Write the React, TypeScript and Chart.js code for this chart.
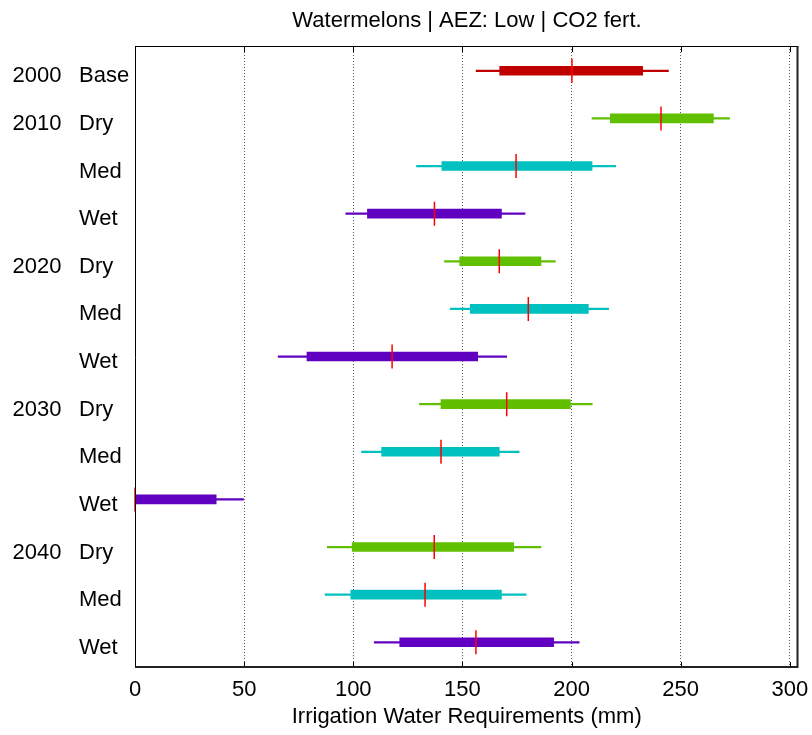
import React, { useEffect, useRef } from 'react';
import { Chart, registerables } from 'chart.js';

Chart.register(...registerables);

// Row labels (top to bottom)
const yearLabels = ['2000', '2010', '', '', '2020', '', '', '2030', '', '', '2040', '', ''];
const scenarioLabels = ['Base', 'Dry', 'Med', 'Wet', 'Dry', 'Med', 'Wet', 'Dry', 'Med', 'Wet', 'Dry', 'Med', 'Wet'];

// Irrigation water requirement statistics per row (mm)
const whiskerLow = [156.3, 209.4, 129.0, 96.6, 141.8, 144.4, 65.6, 130.3, 103.8, 0, 88.1, 87.1, 109.6];
const quartileLow = [167.1, 217.8, 140.6, 106.5, 148.8, 153.6, 78.8, 140.2, 113.0, 0, 99.5, 98.9, 121.3];
const medians = [200.2, 241.0, 174.6, 137.2, 166.9, 180.2, 117.8, 170.3, 140.2, 0, 137.1, 132.9, 156.2];
const quartileHigh = [232.6, 265.0, 209.4, 167.9, 186.0, 207.7, 157.0, 199.5, 166.9, 37.2, 173.5, 167.9, 191.8];
const whiskerHigh = [244.4, 272.4, 220.2, 178.7, 192.6, 217.0, 170.3, 209.5, 176.0, 49.7, 186.0, 179.2, 203.5];

const xTicks = [0, 50, 100, 150, 200, 250, 300];

const scenarioColors: Record<string, string> = {
  Base: '#C00000',
  Dry: '#60C000',
  Med: '#00C0C0',
  Wet: '#6000C0',
};

const FONT = '"Liberation Sans", Arial, Helvetica, sans-serif';

// Axis box, inward tick marks and the two-column row labels
const frameAndLabels = {
  id: 'frameAndLabels',
  afterDraw(chart: any) {
    const { ctx, chartArea: a, scales } = chart;
    const xs = scales.x;
    const ys = scales.y;
    ctx.save();

    ctx.strokeStyle = '#000';
    ctx.lineWidth = 1;
    for (const v of xTicks) {
      const px = Math.round(xs.getPixelForValue(v)) + 0.5;
      ctx.beginPath();
      ctx.moveTo(px, a.top);
      ctx.lineTo(px, a.top + 6);
      ctx.moveTo(px, a.bottom);
      ctx.lineTo(px, a.bottom - 6);
      ctx.stroke();
    }

    ctx.beginPath();
    ctx.lineWidth = 1;
    ctx.moveTo(a.left + 0.5, a.bottom);
    ctx.lineTo(a.left + 0.5, a.top + 0.5);
    ctx.lineTo(a.right, a.top + 0.5);
    ctx.stroke();
    ctx.beginPath();
    ctx.strokeStyle = '#222';
    ctx.lineWidth = 2;
    ctx.moveTo(a.right - 1, a.top);
    ctx.lineTo(a.right - 1, a.bottom - 1);
    ctx.lineTo(a.left, a.bottom - 1);
    ctx.stroke();

    ctx.fillStyle = '#000';
    ctx.font = `22px ${FONT}`;
    ctx.textAlign = 'left';
    ctx.textBaseline = 'alphabetic';
    scenarioLabels.forEach((s, i) => {
      const py = ys.getPixelForValue(i) + 11.5;
      if (yearLabels[i]) ctx.fillText(yearLabels[i], 12.5, py);
      ctx.fillText(s, 79, py);
    });
    ctx.restore();
  },
};

export default function App() {
  const canvasRef = useRef<HTMLCanvasElement | null>(null);

  useEffect(() => {
    const canvas = canvasRef.current;
    if (!canvas) return;
    const rows = scenarioLabels.map((_, i) => i);
    const rowColors = scenarioLabels.map((s) => scenarioColors[s]);

    const chart = new Chart(canvas, {
      type: 'bar',
      data: {
        datasets: [
          {
            type: 'bar',
            label: 'Range',
            order: 3,
            data: rows.map((i) => ({ x: [whiskerLow[i], whiskerHigh[i]], y: i })) as any,
            backgroundColor: rowColors,
            borderWidth: 0,
            barThickness: 1.6,
            grouped: false,
          } as any,
          {
            type: 'bar',
            label: 'Interquartile range',
            order: 2,
            data: rows.map((i) => ({ x: [quartileLow[i], quartileHigh[i]], y: i })) as any,
            backgroundColor: rowColors,
            borderWidth: 0,
            barThickness: 9,
            grouped: false,
          } as any,
          {
            type: 'scatter',
            label: 'Median',
            order: 1,
            data: rows.map((i) => ({ x: medians[i], y: i })),
            pointStyle: 'line',
            rotation: 90,
            pointRadius: 12,
            pointHoverRadius: 12,
            borderColor: '#FF0000',
            backgroundColor: '#FF0000',
            borderWidth: 1.5,
            clip: 2,
          } as any,
        ],
      },
      options: {
        responsive: false,
        animation: false,
        devicePixelRatio: 1,
        indexAxis: 'y',
        layout: { padding: { left: 135, right: 13, top: 0, bottom: 0 } },
        plugins: {
          legend: { display: false },
          tooltip: { enabled: false },
          title: {
            display: true,
            text: 'Watermelons | AEZ: Low | CO2 fert.',
            color: '#000',
            font: { family: FONT, size: 22, weight: 'normal' },
            padding: { top: 8, bottom: 11.6 },
          },
        },
        scales: {
          x: {
            type: 'linear',
            position: 'bottom',
            min: 0,
            max: 304,
            afterBuildTicks(scale: any) {
              scale.ticks = xTicks.map((v) => ({ value: v }));
            },
            afterFit(scale: any) {
              scale.height = 67;
              scale.paddingLeft = 0;
              scale.paddingRight = 0;
            },
            ticks: {
              color: '#000',
              font: { family: FONT, size: 22 },
              padding: 8.5,
              maxRotation: 0,
              autoSkip: false,
            },
            grid: { color: '#555', lineWidth: 1, drawTicks: false },
            border: { display: false, dash: [1, 2] },
            title: {
              display: true,
              text: 'Irrigation Water Requirements (mm)',
              color: '#000',
              font: { family: FONT, size: 22 },
              padding: { top: 0, bottom: 4.4 },
            },
          },
          y: {
            type: 'linear',
            min: -0.52,
            max: 12.54,
            reverse: true,
            offset: false,
            grid: { offset: false },
            display: false,
          },
        },
      } as any,
      plugins: [frameAndLabels],
    });

    return () => chart.destroy();
  }, []);

  return (
    <div style={{ position: 'absolute', left: 0, top: 0, width: 812, height: 735, background: '#fff' }}>
      <canvas ref={canvasRef} width={812} height={735} />
    </div>
  );
}
